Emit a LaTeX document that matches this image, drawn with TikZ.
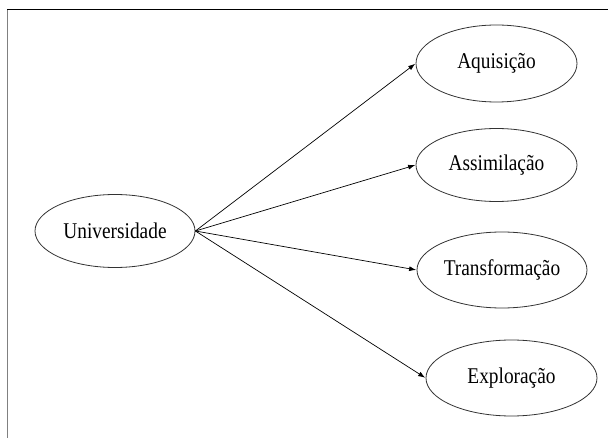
\documentclass[tikz,border=0pt]{standalone}
\usepackage{fontspec}
\setmainfont{Liberation Serif}[FakeStretch=0.86]
\usetikzlibrary{shapes.geometric,arrows.meta}
\begin{document}
\begin{tikzpicture}[x=1pt,y=-1pt,
  ell/.style={draw=black!80,line width=0.8pt,ellipse,inner sep=0pt,font=\fontsize{22.5}{25}\selectfont},
  conn/.style={draw=black,line width=0.7pt,-{Latex[length=7pt,width=5pt]},shorten >=0.5pt}]
\useasboundingbox (0,0) rectangle (608,438);
\draw[black!50,line width=1.2pt] (7.5,438) -- (7.5,9.5);
\draw[black,line width=1pt] (7,9.5) -- (608,9.5);
\node[ell,minimum width=160pt,minimum height=73pt] (u) at (115,231) {Universidade};
\node[ell,minimum width=161pt,minimum height=77pt] (a) at (496.5,63.5) {Aquisição};
\node[ell,minimum width=161pt,minimum height=73pt] (b) at (496.5,165) {Assimilação};
\node[ell,minimum width=170pt,minimum height=76pt] (c) at (502,270) {Transformação};
\node[ell,minimum width=171pt,minimum height=76pt] (d) at (511.5,378) {Exploração};
\draw[conn] (u.east) -- (a.west);
\draw[conn] (u.east) -- (b.west);
\draw[conn] (u.east) -- (c.west);
\draw[conn] (u.east) -- (d.west);
\end{tikzpicture}
\end{document}
